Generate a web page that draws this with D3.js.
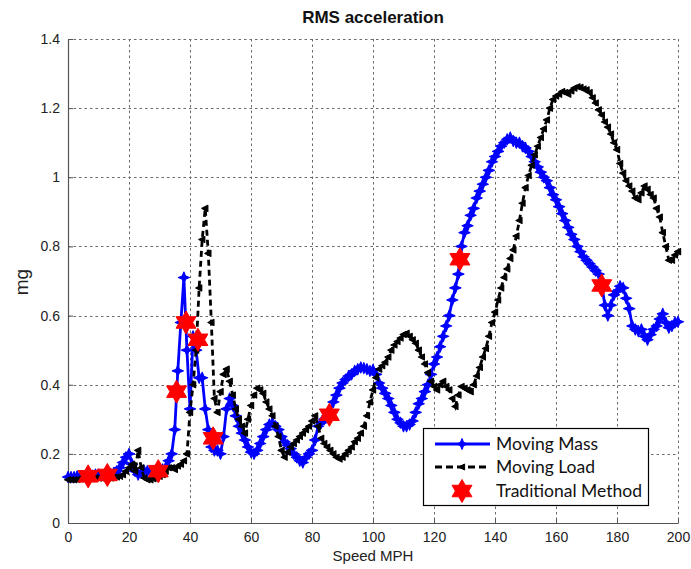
<!DOCTYPE html>
<html><head><meta charset="utf-8">
<script src="https://cdn.jsdelivr.net/npm/d3@7"></script>
<style>body{margin:0;background:#fff}svg{display:block}</style>
</head><body>
<svg id="c" width="691" height="569"></svg>
<script>
const speedStart = 0, speedEnd = 200;
const movingMass = [
0.133,0.133,0.133,0.135,0.135,0.135,0.133,0.135,0.137,0.14,
0.14,0.138,0.14,0.14,0.142,0.145,0.15,0.16,0.175,0.19,
0.2,0.17,0.15,0.14,0.145,0.15,0.15,0.148,0.15,0.152,
0.15,0.155,0.16,0.18,0.2,0.27,0.44,0.58,0.71,0.5,
0.33,0.54,0.5,0.42,0.42,0.33,0.27,0.22,0.21,0.21,
0.2,0.25,0.33,0.36,0.34,0.31,0.28,0.26,0.24,0.22,
0.205,0.2,0.21,0.23,0.25,0.27,0.285,0.29,0.28,0.27,
0.25,0.235,0.225,0.215,0.2,0.19,0.18,0.175,0.19,0.2,
0.21,0.24,0.28,0.29,0.3,0.31,0.32,0.35,0.37,0.39,
0.405,0.415,0.425,0.43,0.44,0.445,0.45,0.448,0.445,0.44,
0.443,0.43,0.405,0.39,0.375,0.36,0.34,0.32,0.3,0.29,
0.28,0.28,0.285,0.295,0.32,0.345,0.36,0.38,0.4,0.43,
0.46,0.48,0.51,0.54,0.57,0.6,0.645,0.68,0.72,0.8,
0.84,0.86,0.89,0.91,0.94,0.96,0.98,1.0,1.02,1.045,
1.06,1.075,1.09,1.1,1.11,1.115,1.105,1.1,1.1,1.09,
1.085,1.075,1.06,1.045,1.03,1.015,1.0,0.99,0.97,0.95,
0.935,0.915,0.895,0.875,0.855,0.835,0.82,0.8,0.785,0.77,
0.76,0.75,0.74,0.73,0.72,0.69,0.63,0.6,0.63,0.66,
0.67,0.685,0.68,0.65,0.62,0.57,0.56,0.555,0.56,0.54,
0.53,0.545,0.56,0.57,0.59,0.605,0.58,0.565,0.57,0.58,
0.582];
const movingLoad = [
0.125,0.125,0.125,0.126,0.128,0.128,0.128,0.13,0.13,0.13,
0.13,0.13,0.13,0.13,0.13,0.132,0.133,0.135,0.14,0.15,
0.16,0.17,0.15,0.21,0.16,0.13,0.125,0.125,0.128,0.13,
0.135,0.14,0.15,0.16,0.16,0.155,0.165,0.17,0.18,0.2,
0.32,0.4,0.5,0.68,0.82,0.91,0.78,0.58,0.36,0.32,
0.38,0.43,0.445,0.41,0.37,0.33,0.3,0.28,0.26,0.3,
0.34,0.37,0.39,0.385,0.375,0.35,0.33,0.31,0.28,0.25,
0.21,0.19,0.205,0.22,0.23,0.24,0.25,0.26,0.27,0.28,
0.295,0.31,0.28,0.245,0.23,0.22,0.21,0.2,0.19,0.185,
0.19,0.2,0.21,0.22,0.235,0.245,0.26,0.28,0.31,0.35,
0.385,0.42,0.445,0.455,0.465,0.48,0.5,0.515,0.525,0.535,
0.545,0.549,0.54,0.53,0.52,0.5,0.48,0.46,0.435,0.41,
0.395,0.385,0.4,0.41,0.395,0.385,0.36,0.337,0.37,0.395,
0.39,0.385,0.38,0.4,0.425,0.45,0.48,0.505,0.54,0.58,
0.61,0.645,0.68,0.71,0.735,0.765,0.79,0.83,0.875,0.925,
0.97,1.005,1.035,1.065,1.09,1.115,1.14,1.166,1.2,1.225,
1.235,1.24,1.248,1.245,1.24,1.25,1.258,1.262,1.26,1.255,
1.253,1.245,1.23,1.215,1.195,1.18,1.16,1.145,1.125,1.1,
1.08,1.04,1.012,0.99,0.975,0.96,0.94,0.935,0.955,0.975,
0.965,0.95,0.94,0.91,0.885,0.84,0.8,0.76,0.76,0.775,
0.785];
const tradSpeed = [6.6, 12.9, 29.6, 35.6, 38.7, 42.6, 47.6, 85.7, 128.5, 175];
const tradValue = [0.135, 0.139, 0.15, 0.38, 0.58, 0.53, 0.245, 0.313, 0.763, 0.687];
const xTicks = [0,20,40,60,80,100,120,140,160,180,200];
const yTicks = [0,0.2,0.4,0.6,0.8,1,1.2,1.4];
const yTickLabels = ["0","0.2","0.4","0.6","0.8","1","1.2","1.4"];
const legendLabels = ["Moving Mass","Moving Load","Traditional Method"];

const speeds = d3.range(speedStart, speedEnd + 1);
const massData = speeds.map((s,i)=>[s, movingMass[i]]);
const loadData = speeds.map((s,i)=>[s, movingLoad[i]]);
const tradData = tradSpeed.map((s,i)=>[s, tradValue[i]]);

const L = 68, T = 39, R = 678, B = 523;
const svg = d3.select("#c");
const x = d3.scaleLinear().domain([0,200]).range([L,R]);
const y = d3.scaleLinear().domain([0,1.4]).range([B,T]);

// grid
const grid = svg.append("g").attr("stroke","#6a6a6a").attr("stroke-width",1).attr("stroke-dasharray","2.5,3");
grid.selectAll(".gx").data(xTicks.filter(d=>d>0)).join("line")
  .attr("x1",d=>Math.round(x(d))+0.5).attr("x2",d=>Math.round(x(d))+0.5).attr("y1",T).attr("y2",B);
grid.selectAll(".gy").data(yTicks.filter(d=>d>0)).join("line")
  .attr("y1",d=>Math.round(y(d))+0.5).attr("y2",d=>Math.round(y(d))+0.5).attr("x1",L).attr("x2",R);

// axes
const font = "'Liberation Sans', Arial, sans-serif";
const xAxis = svg.append("g").attr("transform",`translate(0,${B})`)
  .call(d3.axisBottom(x).tickValues(xTicks).tickSizeInner(-5).tickSizeOuter(0).tickPadding(9).tickFormat(d3.format("d")));
const yAxis = svg.append("g").attr("transform",`translate(${L},0)`)
  .call(d3.axisLeft(y).tickValues(yTicks).tickSizeInner(-5).tickSizeOuter(0).tickPadding(8).tickFormat((d,i)=>yTickLabels[i]));
[xAxis,yAxis].forEach(a=>{
  a.select(".domain").attr("stroke","#555").attr("stroke-width",1.2);
  a.selectAll(".tick line").attr("stroke","#555");
  a.selectAll("text").attr("font-family",font).attr("font-size",14).attr("fill","#222");
});

// lines
const line = d3.line().x(d=>x(d[0])).y(d=>y(d[1]));
const star4 = "M0,-5.5L1.6,-1.6L5.5,0L1.6,1.6L0,5.5L-1.6,1.6L-5.5,0L-1.6,-1.6Z";
const triL = "M-3.4,0L2.6,-3L2.6,3Z";
function hexagram(R0){
  const r0 = R0/Math.sqrt(3); const pts=[];
  for(let k=0;k<12;k++){const a=-Math.PI/2+k*Math.PI/6;const rr=k%2?r0:R0;pts.push([rr*Math.cos(a),rr*Math.sin(a)]);}
  return "M"+pts.map(p=>p[0].toFixed(2)+","+p[1].toFixed(2)).join("L")+"Z";
}
const hex = hexagram(11.5);

svg.append("path").datum(massData).attr("d",line).attr("fill","none").attr("stroke","#0000ff").attr("stroke-width",2.8).attr("stroke-linejoin","round");
svg.append("g").selectAll("path").data(massData).join("path")
  .attr("transform",d=>`translate(${x(d[0])},${y(d[1])})`).attr("d",star4).attr("fill","#0000ff").attr("stroke","#0000ff").attr("stroke-width",1.2).attr("stroke-linejoin","round");

svg.append("path").datum(loadData).attr("d",line).attr("fill","none").attr("stroke","#000").attr("stroke-width",2.8).attr("stroke-dasharray","6,4");
svg.append("g").selectAll("path").data(loadData).join("path")
  .attr("transform",d=>`translate(${x(d[0])},${y(d[1])})`).attr("d",triL).attr("fill","#000").attr("stroke","#000").attr("stroke-width",1.2).attr("stroke-linejoin","round");

svg.append("g").selectAll("path").data(tradData).join("path")
  .attr("transform",d=>`translate(${x(d[0])},${y(d[1])})`).attr("d",hex).attr("fill","#ff0000").attr("stroke","#ff0000").attr("stroke-width",1);

// title and labels
svg.append("text").attr("x",373).attr("y",23).attr("text-anchor","middle")
  .attr("font-family",font).attr("font-weight","bold").attr("font-size",17).attr("fill","#111").text("RMS acceleration");
svg.append("text").attr("x",373).attr("y",561).attr("text-anchor","middle")
  .attr("font-family",font).attr("font-size",15).attr("fill","#222").text("Speed MPH");
svg.append("text").attr("transform","translate(28,282) rotate(-90)").attr("text-anchor","middle")
  .attr("font-family",font).attr("font-size",19).attr("fill","#222").text("mg");

// legend
const lg = svg.append("g");
lg.append("rect").attr("x",423.5).attr("y",428.5).attr("width",225).attr("height",77).attr("fill","#fff").attr("stroke","#000").attr("stroke-width",1.2);
const rows = [444,467,491];
const lfont = "Lato, 'Open Sans', sans-serif";
lg.append("line").attr("x1",435).attr("x2",490).attr("y1",rows[0]).attr("y2",rows[0]).attr("stroke","#0000ff").attr("stroke-width",2.8);
lg.append("path").attr("transform",`translate(462,${rows[0]})`).attr("d",star4).attr("fill","#0000ff").attr("stroke","#0000ff");
lg.append("line").attr("x1",435).attr("x2",490).attr("y1",rows[1]).attr("y2",rows[1]).attr("stroke","#000").attr("stroke-width",2.8).attr("stroke-dasharray","7,4");
lg.append("path").attr("transform",`translate(462,${rows[1]})`).attr("d",triL).attr("fill","#000").attr("stroke","#000");
lg.append("path").attr("transform",`translate(462,${rows[2]})`).attr("d",hex).attr("fill","#ff0000").attr("stroke","#ff0000");
legendLabels.forEach((t,i)=>{
  lg.append("text").attr("x",496).attr("y",rows[i]+6).attr("font-family",lfont).attr("font-size",17.5).attr("fill","#111").text(t);
});
</script>
</body></html>
